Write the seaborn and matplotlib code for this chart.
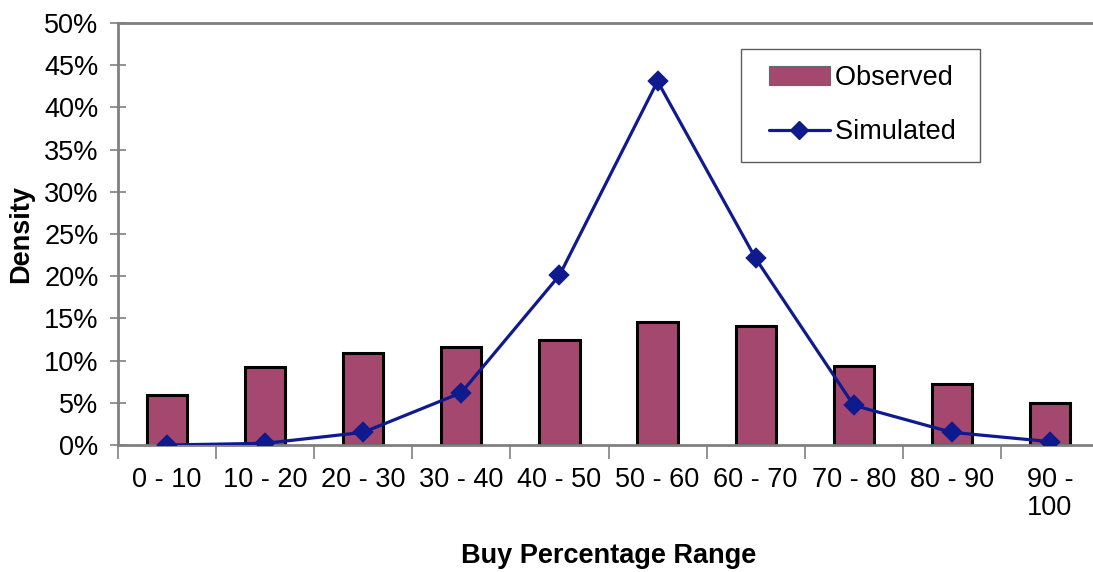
import matplotlib
matplotlib.use("Agg")
import matplotlib.pyplot as plt
from matplotlib.patches import Patch
from matplotlib.lines import Line2D
from matplotlib.legend_handler import HandlerPatch, HandlerLine2D
from matplotlib.ticker import FixedLocator, PercentFormatter
import seaborn as sns
import pandas as pd

categories = ["0 - 10", "10 - 20", "20 - 30", "30 - 40", "40 - 50",
              "50 - 60", "60 - 70", "70 - 80", "80 - 90", "90 -\n100"]
observed = [5.9, 9.2, 10.9, 11.6, 12.4, 14.6, 14.1, 9.4, 7.2, 5.0]
simulated = [0.0, 0.2, 1.5, 6.2, 20.1, 43.1, 22.1, 4.7, 1.5, 0.4]

bar_color = "#A5486F"
line_color = "#0F1A8F"
axis_gray = "#808080"
fs = 19.5

sns.set_theme(style="white")
plt.rcParams["font.family"] = ["Liberation Sans", "DejaVu Sans"]

df = pd.DataFrame({"range": categories, "observed": observed, "simulated": simulated})

fig = plt.figure(figsize=(10.93, 5.72), dpi=100)
ax = fig.add_axes([118 / 1093, 1 - 445 / 572, 981 / 1093, 422 / 572])

sns.barplot(data=df, x="range", y="observed", color=bar_color, width=0.41,
            edgecolor="black", linewidth=2.2, saturation=1, ax=ax, zorder=2)
sns.pointplot(data=df, x="range", y="simulated", color=line_color, markers="D",
              markersize=9, linewidth=2.3, ax=ax, zorder=3)

ax.set_xlim(-0.5, 9.5)
ax.set_ylim(0, 50)
ax.yaxis.set_major_locator(FixedLocator(range(0, 51, 5)))
ax.yaxis.set_major_formatter(PercentFormatter(decimals=0))

for side in ["left", "bottom", "top"]:
    ax.spines[side].set_color(axis_gray)
    ax.spines[side].set_linewidth(2)
    ax.spines[side].set_visible(True)
ax.spines["right"].set_visible(False)

ax.tick_params(axis="y", which="major", direction="inout", length=12, width=1.2,
               color=axis_gray, labelsize=fs, pad=8, left=True, labelcolor="black")
ax.tick_params(axis="x", which="major", length=0, labelsize=fs, pad=16,
               labelcolor="black")
ax.set_xticks([i - 0.5 for i in range(11)], minor=True)
ax.tick_params(axis="x", which="minor", direction="out", length=10, width=1.2,
               color=axis_gray, bottom=True)
for lbl in ax.get_xticklabels():
    lbl.set_linespacing(1.1)
    lbl.set_verticalalignment("top")

ax.set_xlabel("Buy Percentage Range", fontsize=fs, fontweight="bold", labelpad=16,
              color="black")
ax.set_ylabel("Density", fontsize=fs, fontweight="bold", color="black")
ax.yaxis.set_label_coords(-0.086, 0.5)
ax.grid(False)

handles = [
    Patch(facecolor=bar_color, edgecolor="#666666", linewidth=0.8),
    Line2D([0], [0], color=line_color, marker="D", markersize=9, linewidth=2.3),
]
leg = ax.legend(handles, ["Observed ", "Simulated "], loc="upper left",
                bbox_to_anchor=(0.635, 0.938), fontsize=fs, frameon=True,
                fancybox=False, edgecolor="#333333", borderpad=0.6,
                labelspacing=1.03, handlelength=2.68, handletextpad=0.2,
                borderaxespad=0,
                handler_map={Patch: HandlerPatch(xpad=0.42),
                             Line2D: HandlerLine2D(xpad=0.42)})
leg.get_frame().set_linewidth(1.0)
for t in leg.get_texts():
    t.set_color("black")

fig.savefig("out.png", dpi=100)
